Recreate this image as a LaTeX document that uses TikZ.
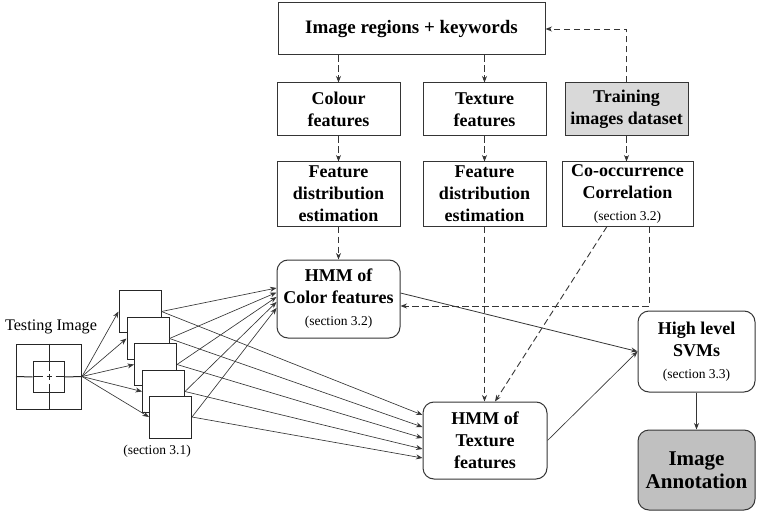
\documentclass[tikz,border=0pt]{standalone}
\usepackage{fontspec}
\setmainfont{Liberation Serif}
\usetikzlibrary{arrows.meta,calc}
\definecolor{lightfill}{HTML}{D9D9D9}
\definecolor{darkfill}{HTML}{C0C0C0}
\definecolor{linec}{HTML}{353535}
\newcommand\secline[1]{{\normalfont\fontsize{13.5}{16}\selectfont #1}}
\begin{document}
\begin{tikzpicture}[x=1pt,y=-1pt,
  box/.style={draw=linec, line width=1pt, fill=white, align=center, inner sep=0pt,
    font=\bfseries\fontsize{18}{22}\selectfont},
  rbox/.style={box, rounded corners=11pt},
  arr/.style={draw=linec, line width=0.8pt, -{Stealth[length=6.5pt,width=5pt]}},
  thin/.style={arr, line width=0.65pt},
  darr/.style={arr, line width=0.9pt, dash pattern=on 6.5pt off 3.5pt},
  sq/.style={draw=black!85, line width=1pt, fill=white, minimum size=42pt, inner sep=0pt},
  lbl/.style={inner sep=0pt}
]
\useasboundingbox (0,0) rectangle (757,513);

% top boxes
\node[box, minimum width=267pt, minimum height=52pt, font=\bfseries\fontsize{19}{22}\selectfont] (imgreg) at (411.5,29) {Image regions + keywords};
\node[box, minimum width=123pt, minimum height=53pt] (colf) at (338.5,109.5) {Colour\\features};
\node[box, minimum width=123pt, minimum height=53pt] (texf) at (484.5,109.5) {Texture\\features};
\node[box, fill=lightfill, minimum width=123pt, minimum height=53pt] (train) at (626.5,109.5) {Training\\images dataset};
\node[box, minimum width=123pt, minimum height=64pt] (fdc) at (338.5,194) {Feature\\distribution\\estimation};
\node[box, minimum width=123pt, minimum height=64pt] (fdt) at (484.5,194) {Feature\\distribution\\estimation};
\node[box, minimum width=131pt, minimum height=64pt] (cooc) at (627.5,194) {Co-occurrence\\Correlation\\\secline{(section 3.2)}};
\node[rbox, minimum width=123pt, minimum height=78pt] (hmmc) at (338.5,299) {HMM of\\Color features\\\secline{(section 3.2)}};
\node[rbox, minimum width=124pt, minimum height=77pt] (hmmt) at (485,440.5) {HMM of\\Texture\\features};
\node[rbox, minimum width=117pt, minimum height=81pt] (svm) at (696.5,351.5) {High level\\SVMs\\\secline{(section 3.3)}};
\node[rbox, fill=darkfill, minimum width=117pt, minimum height=80pt, font=\bfseries\fontsize{21}{23}\selectfont] (annot) at (696.5,470) {Image\\Annotation};

% testing image
\node[lbl, font=\fontsize{16.2}{18}\selectfont] (testlbl) at (51,327) {Testing Image};
\node[draw=black!85, line width=1pt, minimum size=65pt, inner sep=0pt] (test) at (49,376.5) {};
\node[draw=black!85, line width=1pt, minimum size=31pt, inner sep=0pt] (testin) at (48.5,377) {};
\begin{scope}[draw=black!85, line width=1pt]
\draw (test.west) -- (testin.west);
\draw (testin.east) -- (test.east);
\draw (test.north) -- (test.north |- testin.north);
\draw (test.south |- testin.south) -- (test.south);
\draw (33,376.5) -- (43,376.5);
\draw (46.5,376.5) -- (52,376.5);
\draw (55.5,376.5) -- (64,376.5);
\draw (49,361.5) -- (49,370.5);
\draw (49,374) -- (49,380);
\draw (49,383.5) -- (49,392.5);
\end{scope}

% stacked region squares
\node[sq] (s1) at (140,311.5) {};
\node[sq] (s2) at (148,338.5) {};
\node[sq] (s3) at (155.5,364.5) {};
\node[sq] (s4) at (163.5,391.5) {};
\node[sq] (s5) at (170.5,417) {};
\node[lbl, font=\fontsize{13.5}{16}\selectfont] (sec31) at (157,451) {(section 3.1)};

\foreach \i in {1,...,5} \draw[thin] (test.east) -- (s\i.west);
\foreach \i/\o in {1/-11,2/-6.5,3/-2,4/3,5/9}
  \draw[thin] (s\i.east) -- ($(hmmc.west)+(0,\o)$);
\foreach \i/\o in {1/-25.5,2/-13.5,3/-2.5,4/8.5,5/17.5}
  \draw[thin] (s\i.east) -- ($(hmmt.west)+(0,\o)$);

% dashed connectors
\draw[darr] (imgreg.south -| colf.north) -- (colf.north);
\draw[darr] (imgreg.south -| texf.north) -- (texf.north);
\draw[darr] (train.north) |- (imgreg.east);
\draw[darr] (train.south) -- (train.south |- cooc.north);
\draw[darr] (colf.south) -- (fdc.north);
\draw[darr] (texf.south) -- (fdt.north);
\draw[darr] (fdc.south) -- (hmmc.north);
\draw[darr] (fdt.south) -- (fdt.south |- hmmt.north);
\draw[darr] ($(cooc.south)+(21.5,0)$) |- ($(hmmc.east)+(0,7)$);
\draw[darr] ($(cooc.south)+(-20.5,0)$) -- ($(hmmt.north)+(10,0)$);

% solid connectors
\draw[arr] ($(hmmc.east)+(0,-6)$) -- (svm.west);
\draw[thin] (hmmt.east) -- (svm.west);
\draw[arr] (svm.south) -- (annot.north);
\end{tikzpicture}
\end{document}
